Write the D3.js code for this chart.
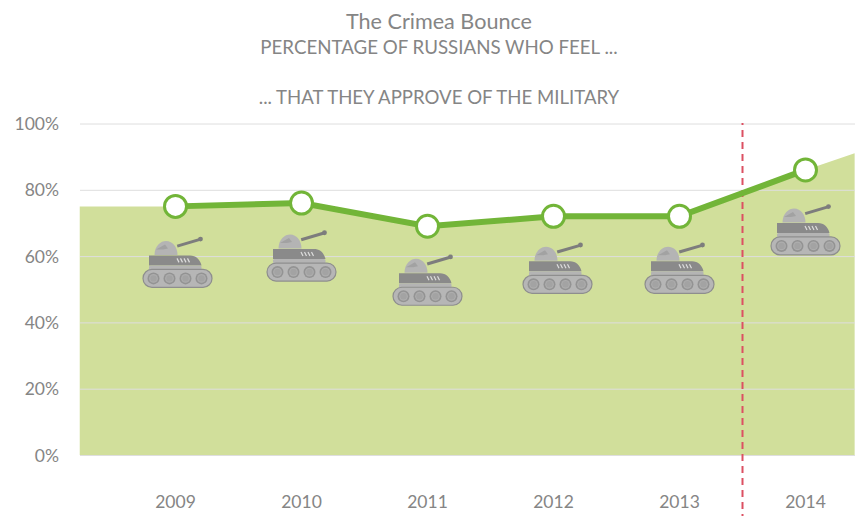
<!DOCTYPE html>
<html><head><meta charset="utf-8">
<script src="https://cdnjs.cloudflare.com/ajax/libs/d3/7.8.5/d3.min.js"></script>
<style>html,body{margin:0;padding:0;background:#fff}svg{display:block}text{font-family:Lato,sans-serif;fill:#858585}</style>
</head><body><svg id="c" width="855" height="516"></svg>
<script>
const years=[2009,2010,2011,2012,2013,2014];
const approval=[75,76,69,72,72,86];
const areaYears=[2008.24,2009,2010,2011,2012,2013,2014,2014.39];
const areaValues=[75,75,76,69,72,72,86,91];
const yTicks=[0,20,40,60,80,100];
const markerYear=2013.5;
const titles=["The Crimea Bounce","PERCENTAGE OF RUSSIANS WHO FEEL ...","... THAT THEY APPROVE OF THE MILITARY"];
// hand placement of each tank icon relative to its point
const tankNudgeX=[-0.5,-2.5,-2.5,1.5,-2.5,-2.5];
const tankNudgeY=[0,-3,-2,-4,-4,4];

const svg=d3.select("#c");
const x=d3.scaleLinear().domain([2009,2014]).range([175.5,805.5]);
const y=d3.scaleLinear().domain([0,100]).range([455,123.5]);
const left=80,right=855;

svg.append("path").datum(areaYears.map((d,i)=>[d,areaValues[i]]))
 .attr("fill","#d1df9b")
 .attr("d",d3.area().x(d=>x(d[0])).y0(y(0)).y1(d=>y(d[1])));

const yAxis=svg.append("g").attr("transform",`translate(${left},0)`)
 .call(d3.axisLeft(y).tickValues(yTicks).tickFormat(d=>d+"%").tickSize(left-right).tickPadding(21));
yAxis.select(".domain").remove();
yAxis.selectAll("line").attr("stroke","#dedede").attr("stroke-width",1);
yAxis.selectAll("text").attr("font-size",17.5).attr("font-family","Lato").style("fill","#858585").attr("dy","0.35em");

const xAxis=svg.append("g").attr("transform","translate(0,455)")
 .call(d3.axisBottom(x).tickValues(years).tickFormat(d3.format("d")).tickSize(0).tickPadding(41));
xAxis.select(".domain").remove();
xAxis.selectAll("text").attr("font-size",17.5).attr("font-family","Lato").style("fill","#858585").attr("dx",-0.5);

svg.append("line").attr("x1",x(markerYear)).attr("x2",x(markerYear)).attr("y1",123).attr("y2",516)
 .attr("stroke","#dc5062").attr("stroke-width",2).attr("stroke-dasharray","7 5").attr("stroke-dashoffset",5);

function tank(g){
 g.append("path").attr("d","M2.2 39.7L25 33").attr("stroke","#7d7d7d").attr("stroke-width",3);
 g.append("circle").attr("cx",25.5).attr("cy",32.7).attr("r",2.4).attr("fill","#7d7d7d");
 g.append("path").attr("d","M-20.5 48.5C-20.5 39 -14 34.5 -9 34.5C-2 34.5 2.5 41 2.5 48.5Z").attr("fill","#b4b4b4");
 g.append("path").attr("d","M-19 43L-10 38L-7 42L-12 43Z").attr("fill","#a2a2a2");
 g.append("path").attr("d","M-26 49H15C21 49 25 53 26.5 59H-26Z").attr("fill","#8a8a8a");
 g.append("rect").attr("x",-26).attr("y",59).attr("width",52.5).attr("height",4.5).attr("rx",1.5).attr("fill","#b4b4b4");
 g.append("path").attr("d","M2 52L4 56M5.5 52L7.5 56M9 52L11 56M12.5 52L14.5 56").attr("stroke","#ddd").attr("stroke-width",1.2);
 g.append("rect").attr("x",-32).attr("y",63).attr("width",69).attr("height",18).attr("rx",9)
  .attr("fill","#b6b6b6").attr("stroke","#8e8e8e").attr("stroke-width",1.2);
 [-21.5,-5.5,10.5,26.5].forEach(w=>{
  g.append("circle").attr("cx",w).attr("cy",72).attr("r",6).attr("fill","#939393");
  g.append("circle").attr("cx",w).attr("cy",72).attr("r",4.4).attr("fill","#adadad");
  g.append("circle").attr("cx",w).attr("cy",72).attr("r",3.2).attr("fill","#a3a3a3");
 });
}
svg.append("g").selectAll("g").data(years).join("g")
 .attr("transform",(d,i)=>`translate(${x(d)+tankNudgeX[i]},${y(approval[i])+tankNudgeY[i]})`).each(function(){tank(d3.select(this))});

svg.append("path").datum(years.map((d,i)=>[d,approval[i]]))
 .attr("fill","none").attr("stroke","#72b538").attr("stroke-width",6)
 .attr("d",d3.line().x(d=>x(d[0])).y(d=>y(d[1])));
svg.append("g").selectAll("circle").data(years).join("circle")
 .attr("cx",d=>x(d)).attr("cy",(d,i)=>y(approval[i])).attr("r",11)
 .attr("fill","#fff").attr("stroke","#72b538").attr("stroke-width",3);

const t=svg.append("g").attr("text-anchor","middle");
t.append("text").attr("x",439).attr("y",29).attr("font-size",21.6).text(titles[0]);
t.append("text").attr("x",439).attr("y",54).attr("font-size",18.7).text(titles[1]);
t.append("text").attr("x",439).attr("y",104).attr("font-size",18.6).text(titles[2]);
</script></body></html>
